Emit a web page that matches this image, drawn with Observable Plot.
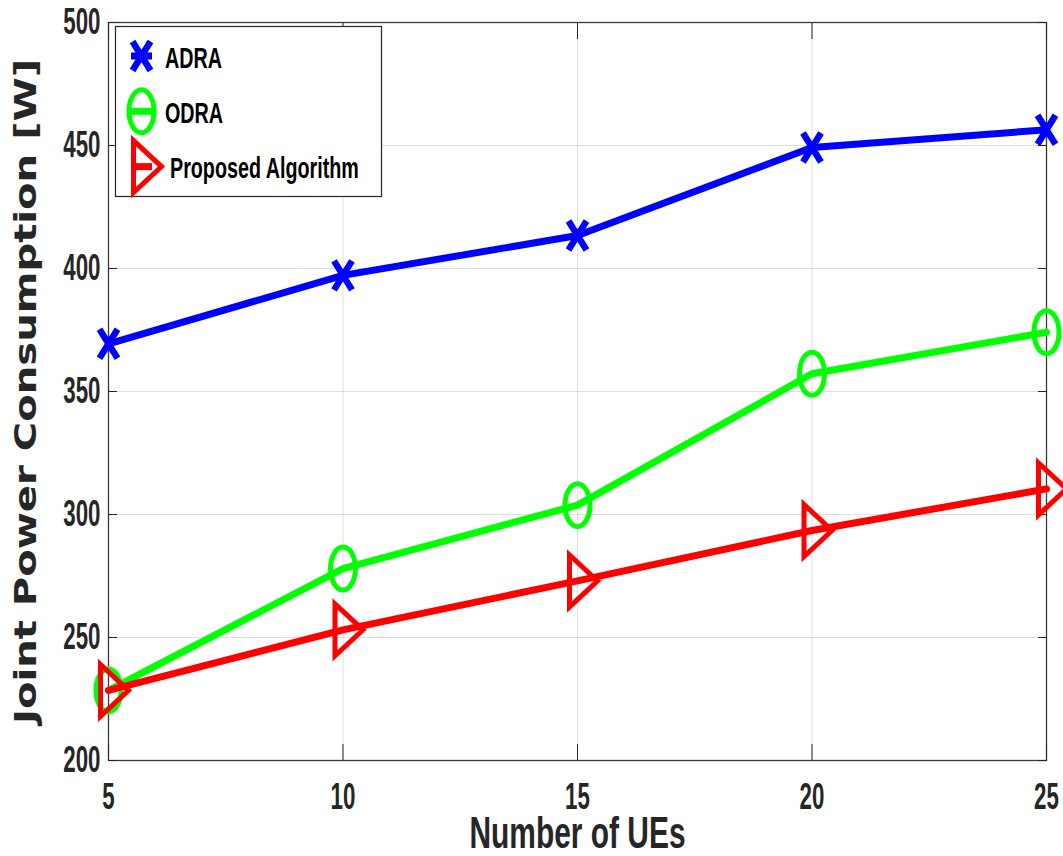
<!DOCTYPE html>
<html>
<head>
<meta charset="utf-8">
<script src="https://cdn.jsdelivr.net/npm/d3@7"></script>
<script src="https://cdn.jsdelivr.net/npm/@observablehq/plot@0.6"></script>
<style>
  html, body { margin: 0; padding: 0; background: #ffffff; }
  svg { display: block; }
</style>
</head>
<body>
<script>
// Joint power consumption versus number of UEs for three allocation schemes.
const ues = [5, 10, 15, 20, 25];
const adra = [369.4, 397.2, 413.4, 449.2, 456.4];
const odra = [228.5, 278.0, 303.8, 357.2, 374.1];
const proposed = [228.5, 253.1, 273.0, 293.5, 310.4];

const seriesNames = ["ADRA", "ODRA", "Proposed Algorithm"];
const seriesColors = ["#0000ff", "#00ff00", "#ff0000"];
const yTicks = [200, 250, 300, 350, 400, 450, 500];
const xLabel = "Number of UEs";
const yLabel = "Joint Power Consumption [W]";

// Marker shapes (sized from the dot radius r).
const symbolCross = {
  draw(ctx, size) {
    const r = Math.sqrt(size / Math.PI), w = 0.9 * r, h = 1.45 * r;
    ctx.moveTo(-w, -h); ctx.lineTo(w, h);
    ctx.moveTo(-w, h); ctx.lineTo(w, -h);
  }
};
const symbolEllipse = {
  draw(ctx, size) {
    const r = Math.sqrt(size / Math.PI), rx = 1.25 * r, ry = 2.15 * r, k = 0.5523;
    const kx = rx * k, ky = ry * k;
    ctx.moveTo(rx, 0);
    ctx.bezierCurveTo(rx, ky, kx, ry, 0, ry);
    ctx.bezierCurveTo(-kx, ry, -rx, ky, -rx, 0);
    ctx.bezierCurveTo(-rx, -ky, -kx, -ry, 0, -ry);
    ctx.bezierCurveTo(kx, -ry, rx, -ky, rx, 0);
    ctx.closePath();
  }
};
const symbolTriRight = {
  draw(ctx, size) {
    const r = Math.sqrt(size / Math.PI);
    ctx.moveTo(-0.8 * r, -2.6 * r);
    ctx.lineTo(-0.8 * r, 2.6 * r);
    ctx.lineTo(2.0 * r, 0);
    ctx.closePath();
  }
};

const series = [
  {name: seriesNames[0], values: adra, color: seriesColors[0], symbol: symbolCross, markerWidth: 6.5},
  {name: seriesNames[1], values: odra, color: seriesColors[1], symbol: symbolEllipse, markerWidth: 5},
  {name: seriesNames[2], values: proposed, color: seriesColors[2], symbol: symbolTriRight, markerWidth: 5}
];

const chart = Plot.plot({
  width: 1063,
  height: 856,
  marginLeft: 108,
  marginRight: 17,
  marginTop: 22,
  marginBottom: 96,
  style: {fontFamily: "'Liberation Sans', Arial, sans-serif", background: "#ffffff"},
  x: {domain: [5, 25]},
  y: {domain: [200, 500]},
  marks: [
    Plot.gridX(ues, {stroke: "#262626", strokeOpacity: 0.15}),
    Plot.gridY(yTicks, {stroke: "#262626", strokeOpacity: 0.15}),
    Plot.frame({stroke: "#3a3a3a", strokeWidth: 1.3}),
    Plot.axisY(yTicks, {anchor: "left", tickSize: -9, tickPadding: 17, label: null, stroke: "#262626", fill: "#262626"}),
    Plot.axisY(yTicks, {anchor: "right", tickSize: -9, tickFormat: () => "", label: null, stroke: "#262626"}),
    Plot.axisX(ues, {anchor: "bottom", tickSize: -16, tickPadding: 39, label: null, stroke: "#262626", fill: "#262626"}),
    Plot.axisX(ues, {anchor: "top", tickSize: -16, tickFormat: () => "", label: null, stroke: "#262626"}),
    ...series.flatMap((s) => {
      const data = ues.map((x, i) => ({x, y: s.values[i]}));
      return [
        Plot.line(data, {x: "x", y: "y", stroke: s.color, strokeWidth: 7, strokeLinejoin: "round"}),
        Plot.dot(data, {x: "x", y: "y", r: 10, symbol: s.symbol, stroke: s.color, strokeWidth: s.markerWidth, fill: "none", strokeLinejoin: "miter"})
      ];
    }),
    Plot.text([xLabel], {text: (d) => d, frameAnchor: "bottom", dy: 87, lineAnchor: "bottom", fontSize: 44, fontWeight: "bold", fill: "#262626"}),
    Plot.text([yLabel], {text: (d) => d, frameAnchor: "left", dx: -73, rotate: -90, lineAnchor: "bottom", textAnchor: "middle", fontSize: 30, fontWeight: "bold", fontFamily: "'DejaVu Sans', sans-serif", fill: "#262626"})
  ]
});

document.body.append(chart);

// Bold, large tick labels.
chart.querySelectorAll('g[aria-label="y-axis tick label"], g[aria-label="x-axis tick label"]').forEach((g) => {
  g.setAttribute("font-size", 36);
  g.setAttribute("font-weight", "bold");
});

// Legend box in the upper-left corner of the axes.
const svg = d3.select(chart);
const legend = svg.append("g").attr("class", "legend");
legend.append("rect")
  .attr("x", 115.5).attr("y", 26.5).attr("width", 266).attr("height", 170)
  .attr("fill", "#ffffff").attr("stroke", "#262626").attr("stroke-width", 1.2);
const legendTextX = [165, 165, 170];
series.forEach((s, i) => {
  const cy = 56 + i * 55.3;
  legend.append("line")
    .attr("x1", 131).attr("x2", 152).attr("y1", cy).attr("y2", cy)
    .attr("stroke", s.color).attr("stroke-width", 7);
  legend.append("path")
    .attr("transform", `translate(141.5,${cy})`)
    .attr("d", d3.symbol(s.symbol, Math.PI * 100)())
    .attr("fill", "none").attr("stroke", s.color).attr("stroke-width", s.markerWidth)
    .attr("stroke-linejoin", "miter");
  legend.append("text")
    .attr("x", legendTextX[i]).attr("y", cy + 11.5)
    .attr("text-anchor", "start")
    .attr("font-family", "'Liberation Sans', Arial, sans-serif")
    .attr("font-weight", "bold").attr("font-size", 29).attr("fill", "#000000")
    .text(s.name);
});

// Narrow the bold text horizontally.
function squeeze(nodes, k) {
  nodes.forEach((t) => {
    const w = t.getComputedTextLength();
    if (w > 0) {
      t.setAttribute("textLength", (w * k).toFixed(1));
      t.setAttribute("lengthAdjust", "spacingAndGlyphs");
    }
  });
}
squeeze(chart.querySelectorAll('g[aria-label="y-axis tick label"] text'), 0.62);
squeeze(chart.querySelectorAll('g[aria-label="x-axis tick label"] text'), 0.62);
squeeze(chart.querySelectorAll("g.legend text"), 0.68);
const allTexts = Array.from(chart.querySelectorAll("text"));
squeeze(allTexts.filter((t) => t.textContent === xLabel), 0.68);
allTexts.filter((t) => t.textContent === yLabel).forEach((t) => {
  t.setAttribute("textLength", 665);
  t.setAttribute("lengthAdjust", "spacingAndGlyphs");
});
</script>
</body>
</html>
